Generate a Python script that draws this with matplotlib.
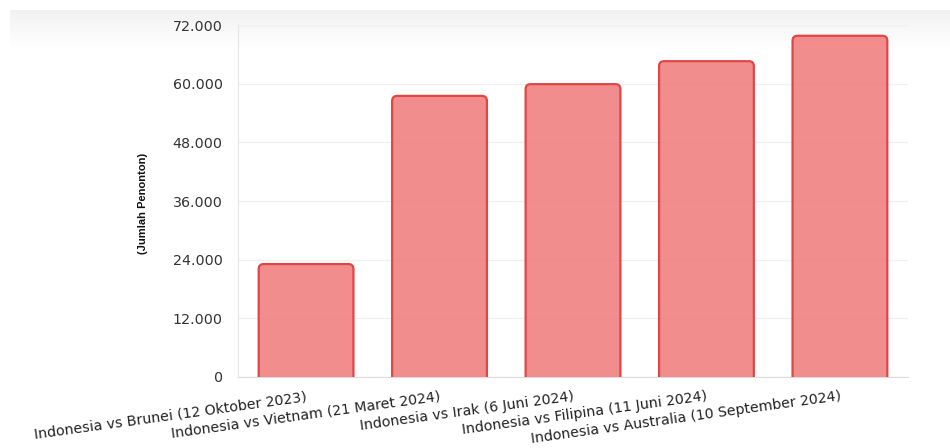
import numpy as np
import matplotlib
matplotlib.use("Agg")
import matplotlib.pyplot as plt
from matplotlib.patches import FancyBboxPatch
from matplotlib.ticker import FixedLocator, FuncFormatter

matches = [
    "Indonesia vs Brunei (12 Oktober 2023)",
    "Indonesia vs Vietnam (21 Maret 2024)",
    "Indonesia vs Irak (6 Juni 2024)",
    "Indonesia vs Filipina (11 Juni 2024)",
    "Indonesia vs Australia (10 September 2024)",
]
penonton = [23100, 57500, 59900, 64600, 69800]
y_ticks = [0, 12000, 24000, 36000, 48000, 60000, 72000]

plt.rcParams["font.family"] = ["DejaVu Sans"]

fig = plt.figure(figsize=(9.5, 4.48), dpi=100)
fig.patch.set_facecolor("white")

# faint grey band at the top (screenshot look)
band = fig.add_axes([10 / 950, 1 - 48 / 448, 940 / 950, 38 / 448], zorder=-5)
grad = np.linspace(0.945, 1.0, 64).reshape(-1, 1)
band.imshow(np.dstack([grad, grad, grad]), aspect="auto", extent=[0, 1, 0, 1])
band.set_axis_off()

ax = fig.add_axes([238 / 950, 1 - 377 / 448, (908 - 238) / 950, (377 - 25) / 448])
ax.set_facecolor("none")

x = np.arange(len(matches))
bars = ax.bar(x, penonton, width=0.71)
ax.set_xlim(-0.51, len(matches) - 0.49)
ax.set_ylim(0, 72000)

# swap plain rectangles for rounded ones
px_x = 1 / 133.5
px_y = 72000 / 352
for rect in bars:
    rect.set_visible(False)
    bx, bw, bh = rect.get_x(), rect.get_width(), rect.get_height()
    r = 5 * px_x
    patch = FancyBboxPatch(
        (bx, -3000), bw, bh + 3000,
        boxstyle=f"round,pad=0,rounding_size={r}",
        mutation_aspect=px_y / px_x,
        facecolor=(0.945, 0.49, 0.49, 0.88),
        edgecolor="#e04646",
        linewidth=1.6,
        clip_on=True,
        zorder=3,
    )
    ax.add_patch(patch)

ax.yaxis.set_major_locator(FixedLocator(y_ticks))
ax.yaxis.set_major_formatter(FuncFormatter(lambda v, p: f"{int(v):,}".replace(",", ".")))
ax.grid(axis="y", color="#efefef", linewidth=0.9)
ax.set_axisbelow(True)

for side in ["top", "right"]:
    ax.spines[side].set_visible(False)
ax.spines["left"].set_color("#e6e6e6")
ax.spines["bottom"].set_color("#dcdcdc")
ax.tick_params(axis="y", length=0, pad=11, labelsize=10.3, labelcolor="#333333")
ax.tick_params(axis="x", length=0, pad=9, labelsize=10.2, labelcolor="#222222")

ax.set_xticks(x)
ax.set_xticklabels(matches, rotation=7.9, ha="right", rotation_mode="anchor")

ax.set_ylabel("(Jumlah Penonton)", fontsize=8, fontweight="bold", family="Liberation Sans",
              color="#111111")
ax.yaxis.set_label_coords((148 - 238) / 670, (377 - 203) / 352)

fig.savefig("out.png", dpi=100)
